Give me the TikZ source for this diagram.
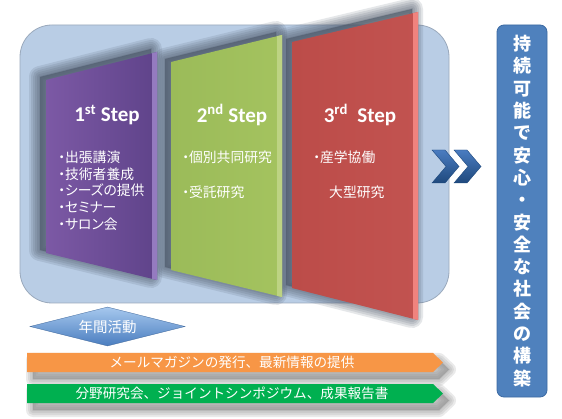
\documentclass[tikz,border=0pt]{standalone}
\usepackage{fontspec}
\setmainfont{Carlito}
\newfontfamily\jpfont{Noto Sans CJK JP}[RawFeature=+palt]
\newfontfamily\jpwide{Noto Sans CJK JP}
\usetikzlibrary{calc,shapes.geometric}
\definecolor{bgblue}{HTML}{B9CDE5}
\definecolor{bgedge}{HTML}{9AA9BC}
\definecolor{shadowgray}{HTML}{4A5566}
\definecolor{purpleL}{HTML}{7C59A5}
\definecolor{purpleR}{HTML}{5F438A}
\definecolor{purpleE}{HTML}{957BC0}
\definecolor{greenL}{HTML}{9BBB59}
\definecolor{greenR}{HTML}{A4C35F}
\definecolor{greenE}{HTML}{BDD383}
\definecolor{redL}{HTML}{BC4C49}
\definecolor{redR}{HTML}{C25350}
\definecolor{redE}{HTML}{F0837E}
\definecolor{chevL}{HTML}{4A7CC0}
\definecolor{chevD}{HTML}{1F497D}
\definecolor{goalblue}{HTML}{4F81BD}
\definecolor{goaledge}{HTML}{3C6AA3}
\definecolor{hexL}{HTML}{A6C8EE}
\definecolor{hexD}{HTML}{4A7DBF}
\definecolor{barorange}{HTML}{F79646}
\definecolor{bargreen}{HTML}{00B050}
\definecolor{barshade}{HTML}{8C8C8C}
\tikzset{
  bgbox/.style={fill=bgblue, draw=bgedge, line width=0.8pt, rounded corners=32pt},
  shadowring/.style={draw=shadowgray, fill=shadowgray, line join=round, line width=#1pt, opacity=0.14},
  barshadow/.style={draw=barshade, fill=barshade, line join=round, line width=#1pt, opacity=0.18},
  chev/.style={top color=chevL, bottom color=chevD, draw=chevD, line width=0.4pt},
  steplbl/.style={text=white, font=\bfseries\fontsize{21}{24}\selectfont},
  item/.style={text=white, anchor=west, inner sep=0pt, font=\jpfont\fontsize{13.8}{16}\selectfont},
  barlbl/.style={text=white, inner sep=0pt, font=\jpwide\fontsize{13.6}{16}\selectfont},
  goalbox/.style={fill=goalblue, draw=goaledge, line width=0.8pt, rounded corners=7pt,
    minimum width=50pt, minimum height=372pt, text=white, align=center,
    font=\jpwide\bfseries\fontsize{18}{22.3}\selectfont},
  hexbox/.style={diamond, aspect=4, minimum width=155pt, minimum height=39pt, inner sep=0pt,
    top color=hexL, bottom color=hexD, draw=hexD!80!black, line width=0.3pt,
    text=white, font=\jpwide\fontsize{14.5}{17}\selectfont}
}

\begin{document}
\begin{tikzpicture}[x=1pt, y=-1pt]
  \useasboundingbox (0,0) rectangle (562,419);
  \fill[white] (0,0) rectangle (562,419);

  % background card
  \draw[bgbox] (20,25) rectangle (449,303);

  % the three step panels
  \def\panels{46/80/157/52/253/280/purpleL/purpleR/purpleE,
    171/62/282/35/270/297/greenL/greenR/greenE,
    292/42/418/12/288/320/redL/redR/redE}
  \foreach \xl/\ya/\xr/\yb/\yc/\yd/\cl/\cr/\ce in \panels {
    \foreach \w in {22,18,14,10,6,2}
      \path[shadowring=\w] (\xl-6,\ya-3) -- (\xr-6,\yb-3) -- (\xr-6,\yd-3) -- (\xl-6,\yc-3) -- cycle;
  }
  \foreach \xl/\ya/\xr/\yb/\yc/\yd/\cl/\cr/\ce in \panels {
    \shade[left color=\cl, right color=\cr] (\xl,\ya) -- (\xr,\yb) -- (\xr,\yd) -- (\xl,\yc) -- cycle;
    \fill[\ce] (\xr-5,\yb+1.25) -- (\xr,\yb) -- (\xr,\yd) -- (\xr-5,\yd-1.2) -- cycle;
  }

  \node[steplbl] (st1) at (107,115) {1\textsuperscript{st} Step};
  \node[steplbl] (st2) at (232,115) {2\textsuperscript{nd} Step};
  \node[steplbl] (st3) at (360,115) {3\textsuperscript{rd}\ \ Step};

  \foreach \t [count=\i] in {・出張講演, ・技術者養成, ・シーズの提供, ・セミナー, ・サロン会}
    \node[item] (a\i) at (58,{157+16.8*(\i-1)}) {\t};
  \node[item] (b1) at (182,157) {・個別共同研究};
  \node[item] (b2) at (182,192) {・受託研究};
  \node[item] (c1) at (313,157) {・産学協働};
  \node[item] (c2) at (329,192) {大型研究};

  % chevrons
  \foreach \dx in {0,22}
    \draw[chev] (432+\dx,150) -- (445+\dx,150) -- (459+\dx,166.5) -- (445+\dx,183)
      -- (432+\dx,183) -- (446+\dx,166.5) -- cycle;

  % goal
  \node[goalbox] (goal) at (522,211) {持\\続\\可\\能\\で\\安\\心\\・\\安\\全\\な\\社\\会\\の\\構\\築};

  % yearly activities
  \node[hexbox] (year) at (107.5,326.5) {年間活動};

  \foreach \w in {14,10,6,2}
    \path[barshadow=\w] (33,360) -- (439,360) -- (449,369.5) -- (439,379) -- (33,379) -- cycle;
  \fill[barorange] (27,353) -- (433,353) -- (443,362.5) -- (433,372) -- (27,372) -- cycle;
  \node[barlbl] (mail) at (232,362.5) {メールマガジンの発行、最新情報の提供};

  \foreach \w in {14,10,6,2}
    \path[barshadow=\w] (33,391) -- (439,391) -- (449,400.5) -- (439,410) -- (33,410) -- cycle;
  \fill[bargreen] (27,384) -- (433,384) -- (443,393.5) -- (433,403) -- (27,403) -- cycle;
  \node[barlbl] (symp) at (232,393.5) {分野研究会、ジョイントシンポジウム、成果報告書};
\end{tikzpicture}
\end{document}
